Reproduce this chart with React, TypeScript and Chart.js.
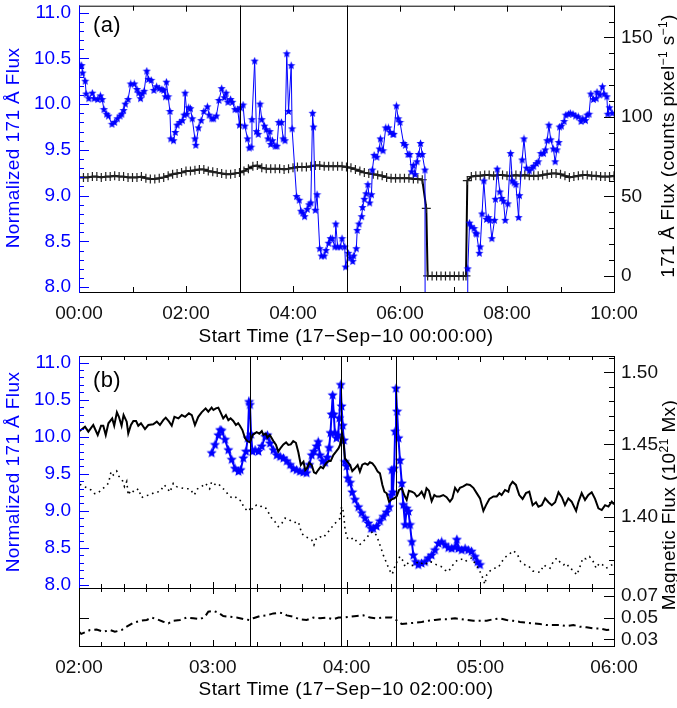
import React, { useEffect, useRef } from "react";
import { Chart, registerables } from "chart.js";
Chart.register(...registerables);

const BLUE = "#0000ff";
const FONT = '"Liberation Sans", Arial, Helvetica, sans-serif';

// ---------------- Panel (a): minutes since 17-Sep-10 00:00 ----------------
const A_X_TICKS = [0, 120, 240, 360, 480, 600];
const A_LEFT_TICKS = [8.0, 8.5, 9.0, 9.5, 10.0, 10.5, 11.0];
const A_RIGHT_TICKS = [0, 50, 100, 150];
const A_VLINES = [180, 300];

// normalized 171 A flux (blue stars) [minute, value]
const A_BLUE: [number, number][] = [
  [1, 10.42], [3, 10.42], [4, 10.34], [7, 10.25], [8, 10.11], [11, 10.06], [15, 10.12], [17, 10.06],
  [21, 10.05], [24, 10.09], [26, 10.05], [28, 9.94], [31, 9.89], [33, 9.87], [37, 9.78], [40, 9.8],
  [43, 9.84], [46, 9.87], [48, 9.89], [50, 9.93], [52, 10.0], [55, 10.05], [58, 10.22], [62, 10.22],
  [65, 10.16], [67, 10.12], [69, 10.06], [71, 10.11], [73, 10.14], [76, 10.36], [78, 10.27], [81, 10.26],
  [84, 10.15], [87, 10.19], [90, 10.17], [93, 10.16], [95, 10.15], [97, 10.08], [98, 10.24], [100, 10.08],
  [102, 9.92], [103, 9.62], [106, 9.6], [108, 9.69], [110, 9.77], [113, 9.8], [116, 9.82], [118, 9.88],
  [119, 10.12], [121, 9.89], [123, 9.96], [125, 9.95], [127, 9.84], [130, 9.62], [131, 9.55], [134, 9.74],
  [137, 9.82], [140, 9.92], [144, 9.97], [146, 9.88], [149, 9.84], [151, 9.84], [154, 9.87], [157, 10.04],
  [160, 10.17], [163, 10.07], [165, 10.12], [167, 10.02], [170, 10.05], [172, 10.02], [175, 9.94], [178, 9.94],
  [180, 9.77], [181, 9.96], [184, 9.99], [186, 9.76], [189, 9.62], [191, 9.52], [193, 9.53], [194, 9.83],
  [197, 10.47], [199, 9.7], [201, 9.67], [203, 10.0], [205, 9.83], [208, 9.76], [210, 9.72], [212, 9.62],
  [214, 9.7], [215, 9.56], [217, 9.6], [220, 9.54], [222, 9.54], [224, 9.8], [227, 9.8], [229, 9.62],
  [231, 9.6], [233, 10.55], [235, 9.92], [238, 10.42], [239, 9.73], [244, 8.99], [247, 8.95], [249, 8.83],
  [251, 8.81], [253, 8.77], [256, 8.85], [258, 8.9], [260, 8.92], [262, 9.9], [263, 9.75], [265, 8.84],
  [267, 9.01], [270, 8.42], [272, 8.34], [275, 8.34], [277, 8.4], [280, 8.48], [282, 8.53], [284, 8.53],
  [287, 8.44], [288, 8.69], [290, 8.44], [293, 8.44], [295, 8.53], [298, 8.44], [299, 8.22], [302, 8.37],
  [304, 8.32], [307, 8.28], [308, 8.34], [311, 8.42], [312, 8.62], [314, 8.69], [317, 8.77], [318, 8.87],
  [320, 8.96], [322, 9.02], [324, 9.12], [326, 8.92], [328, 9.01], [329, 9.28], [331, 9.44], [334, 9.42],
  [337, 9.51], [338, 9.62], [341, 9.49], [344, 9.74], [347, 9.74], [349, 9.69], [352, 9.67], [353, 9.67],
  [356, 9.98], [358, 9.84], [360, 9.8], [364, 9.57], [366, 9.55], [369, 9.45], [371, 9.45], [373, 9.26],
  [375, 9.33], [377, 9.23], [379, 9.37], [381, 9.45], [383, 9.57], [385, 9.45], [388, 9.28], [389, 0],
  [435, 0], [436, 8.2], [438, 8.7], [440, 8.66], [443, 8.64], [445, 8.59], [446, 8.58], [449, 8.37],
  [450, 8.44], [452, 8.8], [454, 9.16], [457, 8.74], [459, 8.76], [461, 8.73], [463, 8.53], [466, 8.73],
  [467, 8.96], [469, 9.29], [472, 9.04], [474, 8.97], [476, 8.94], [478, 8.73], [481, 8.91], [484, 9.46],
  [486, 9.16], [488, 9.14], [490, 9.12], [493, 8.76], [494, 9.0], [497, 9.39], [499, 9.62], [502, 9.3],
  [505, 9.27], [508, 9.3], [510, 9.32], [513, 9.35], [515, 9.37], [518, 9.46], [521, 9.46], [523, 9.5],
  [525, 9.6], [527, 9.77], [529, 9.61], [532, 9.51], [534, 9.37], [536, 9.5], [538, 9.58], [539, 9.75],
  [541, 9.76], [544, 9.81], [546, 9.88], [549, 9.89], [551, 9.9], [554, 9.89], [557, 9.87], [560, 9.86],
  [563, 9.81], [565, 9.84], [568, 9.82], [570, 9.88], [572, 9.89], [574, 10.11], [577, 10.05], [580, 10.06],
  [581, 10.13], [584, 10.1], [587, 10.19], [589, 10.11], [592, 10.08], [593, 9.89], [595, 9.96], [598, 9.9],
];

// 171 A flux, counts pixel^-1 s^-1 (black plus) [minute, value]
const A_BLACK: [number, number][] = [
  [0, 62], [5, 62], [10, 62], [15, 62.5], [20, 62.5], [25, 62], [30, 62.5], [35, 62.5], [40, 63], [45, 62.5],
  [50, 62.5], [55, 62], [60, 62], [65, 62], [70, 62.5], [75, 61.5], [80, 61], [85, 61], [90, 61.5], [95, 62],
  [100, 63], [105, 64], [110, 64.5], [115, 65], [120, 66], [125, 66], [130, 66.5], [135, 67], [140, 67], [145, 66],
  [150, 65.5], [155, 65], [160, 64.5], [165, 64], [170, 64], [175, 64.5], [180, 65], [185, 66], [190, 67.5], [195, 69],
  [200, 69.5], [205, 68], [210, 67.5], [215, 67.5], [220, 67.5], [225, 67.5], [230, 67], [235, 67.5], [240, 68], [245, 68.5],
  [250, 68.5], [255, 68.5], [260, 69], [265, 69.5], [270, 69.5], [275, 69], [280, 69], [285, 69], [290, 69], [295, 69],
  [300, 68.5], [305, 68], [310, 67], [315, 66], [320, 65], [325, 64.5], [330, 64], [335, 63.5], [340, 63], [345, 62],
  [350, 61.5], [355, 61.5], [360, 61.5], [365, 61.5], [370, 61.5], [375, 61], [380, 61], [385, 60.5], [389.5, 42.5], [391, 0],
  [396, 0], [401, 0], [406, 0], [411, 0], [416, 0], [421, 0], [426, 0], [431, 0], [434, 0], [435.5, 60],
  [440, 62.5], [445, 63], [450, 63], [455, 63.5], [460, 63.5], [465, 63], [470, 63.5], [475, 63.5], [480, 63], [485, 63],
  [490, 63.5], [495, 63], [500, 63.5], [505, 63], [510, 63], [515, 63], [520, 63.5], [525, 64], [530, 64.5], [535, 64.5],
  [540, 64], [545, 63], [550, 62], [555, 62.5], [560, 63], [565, 63.5], [570, 63.5], [575, 63], [580, 63], [585, 62.5],
  [590, 62.5], [595, 62.5], [600, 63],
];

// ---------------- Panel (b): minutes since 17-Sep-10 02:00 ----------------
const B_X_TICKS = [0, 60, 120, 180, 240];
const B_LEFT_TICKS = [8.0, 8.5, 9.0, 9.5, 10.0, 10.5, 11.0];
const B_RIGHT_TICKS = [1.4, 1.45, 1.5];
const C_RIGHT_TICKS = [0.03, 0.05, 0.07];
const B_VLINES = [76.9, 117.4, 142.2];

const B_BLUE: [number, number][] = [
  [59.5, 9.78], [61.0, 9.89], [62.5, 10.02], [63.3, 10.09], [64.0, 10.08], [65.5, 9.96], [67.0, 9.82], [68.5, 9.69],
  [70.0, 9.57], [71.5, 9.53], [72.5, 9.55], [73.7, 9.71], [74.9, 9.8], [75.7, 9.98], [76.3, 10.47], [76.7, 10.43],
  [77.2, 10.03], [77.8, 9.8], [79.0, 9.82], [80.5, 9.8], [82.0, 9.87], [83.5, 10.0], [84.5, 10.02], [85.7, 9.91],
  [87.2, 9.82], [88.7, 9.75], [90.2, 9.73], [91.7, 9.71], [93.2, 9.67], [94.7, 9.62], [96.1, 9.57], [97.6, 9.55],
  [99.1, 9.53], [100.6, 9.52], [102.1, 9.51], [103.3, 9.62], [104.4, 9.75], [105.4, 9.8], [106.6, 9.87], [107.3, 9.93],
  [108.1, 9.75], [109.3, 9.67], [110.4, 9.65], [111.4, 9.72], [112.2, 9.85], [112.8, 10.05], [113.3, 10.3], [113.8, 10.56],
  [114.3, 10.3], [114.8, 10.05], [115.5, 9.98], [116.2, 10.02], [116.8, 10.25], [117.4, 10.7], [117.8, 10.41], [118.3, 10.15],
  [118.8, 9.95], [119.3, 9.66], [120.1, 9.6], [120.6, 9.44], [121.6, 9.38], [122.6, 9.25], [123.8, 9.15], [125.3, 9.05],
  [126.8, 8.97], [128.3, 8.9], [129.8, 8.83], [131.0, 8.76], [132.0, 8.76], [133.5, 8.79], [135.0, 8.86], [136.5, 8.92],
  [138.0, 8.98], [139.2, 9.05], [140.0, 9.21], [140.3, 9.55], [140.8, 9.25], [141.4, 9.57], [141.8, 10.07], [142.2, 10.65],
  [142.7, 10.34], [143.3, 9.98], [144.0, 9.68], [144.8, 9.37], [145.5, 9.08], [146.3, 8.81], [147.0, 9.03], [147.8, 8.99],
  [148.5, 8.81], [149.3, 8.58], [150.0, 8.4], [151.1, 8.31], [152.2, 8.27], [153.7, 8.29], [155.2, 8.31], [156.7, 8.36],
  [158.2, 8.4], [159.7, 8.47], [161.2, 8.56], [162.7, 8.58], [164.2, 8.54], [165.7, 8.5], [167.2, 8.49], [168.7, 8.51],
  [169.5, 8.61], [170.2, 8.49], [171.7, 8.47], [173.2, 8.49], [174.6, 8.47], [176.1, 8.45], [177.6, 8.38], [178.8, 8.31],
  [179.9, 8.27],
];

// magnetic flux, 10^21 Mx (solid)
const B_SOLID: [number, number][] = [
  [0, 1.459], [2.7, 1.4623], [4.2, 1.4589], [6.4, 1.4635], [8.4, 1.4566], [9.9, 1.463], [10.9, 1.463], [12.0, 1.4566],
  [13.2, 1.4647], [14.9, 1.4681], [15.8, 1.463], [17.0, 1.4723], [17.9, 1.4692], [19.1, 1.463], [20.0, 1.4704], [21.4, 1.4658],
  [22.1, 1.4577], [23.3, 1.4635], [24.4, 1.4663], [25.6, 1.4663], [26.6, 1.463], [27.8, 1.4647], [29.6, 1.4607], [31.1, 1.4635],
  [33.3, 1.464], [34.9, 1.4658], [36.3, 1.4635], [37.8, 1.4669], [38.9, 1.4686], [40.4, 1.4658], [41.6, 1.463], [42.8, 1.4692],
  [44.6, 1.4681], [46.1, 1.4704], [47.6, 1.4692], [49.3, 1.4716], [50.6, 1.4704], [52.0, 1.4635], [53.5, 1.4692], [55.0, 1.4723],
  [56.8, 1.475], [58.0, 1.4727], [59.5, 1.4755], [60.3, 1.4739], [61.4, 1.475], [62.5, 1.4755], [63.5, 1.4723], [64.7, 1.4681],
  [65.9, 1.4704], [67.0, 1.4669], [68.0, 1.4681], [69.2, 1.4663], [70.4, 1.4635], [71.4, 1.4647], [72.2, 1.463], [73.3, 1.46],
  [74.5, 1.4543], [75.5, 1.4524], [76.7, 1.4515], [77.9, 1.4566], [78.7, 1.4575], [79.7, 1.4585], [80.9, 1.4575], [82.0, 1.4593],
  [82.7, 1.4566], [83.8, 1.4575], [84.5, 1.4547], [85.6, 1.4566], [87.2, 1.4524], [88.4, 1.4497], [89.4, 1.445], [90.5, 1.4477],
  [91.7, 1.4501], [92.9, 1.4515], [93.9, 1.4497], [95.0, 1.4501], [96.1, 1.4524], [97.3, 1.4512], [98.4, 1.4446], [99.5, 1.4358],
  [100.7, 1.4381], [101.5, 1.4323], [102.4, 1.4339], [103.3, 1.4374], [104.4, 1.4358], [105.4, 1.4307], [106.3, 1.43], [107.3, 1.4323],
  [108.4, 1.4346], [109.5, 1.4335], [110.8, 1.4369], [111.9, 1.4385], [112.9, 1.4385], [114.1, 1.4427], [115.3, 1.445], [116.4, 1.4473],
  [117.1, 1.4497], [118.0, 1.4577], [118.6, 1.4531], [119.3, 1.4404], [120.4, 1.4381], [121.6, 1.4358], [122.6, 1.4316], [123.8, 1.4335],
  [125.0, 1.4358], [126.0, 1.4312], [127.1, 1.436], [128.3, 1.4369], [129.5, 1.436], [130.5, 1.4377], [131.6, 1.4369], [132.8, 1.4346],
  [134.0, 1.4312], [135.0, 1.43], [136.1, 1.422], [137.0, 1.4173], [138.0, 1.4162], [139.1, 1.4104], [140.3, 1.412], [141.4, 1.4127],
  [142.5, 1.414], [143.6, 1.4185], [144.8, 1.4197], [145.9, 1.415], [147.0, 1.4116], [148.0, 1.418], [149.3, 1.4173], [150.5, 1.4163],
  [151.5, 1.414], [152.5, 1.415], [153.7, 1.4173], [154.9, 1.4135], [155.9, 1.4197], [157.0, 1.418], [158.2, 1.4108], [159.4, 1.415],
  [160.4, 1.414], [161.9, 1.414], [163.4, 1.415], [164.9, 1.4135], [166.4, 1.4104], [167.5, 1.4127], [168.7, 1.42], [169.9, 1.4173],
  [170.9, 1.42], [172.4, 1.421], [173.9, 1.4224], [175.4, 1.422], [176.9, 1.42], [178.4, 1.4163], [179.9, 1.4127], [181.4, 1.404],
  [182.6, 1.408], [184.1, 1.4123], [185.9, 1.414], [187.4, 1.414], [188.6, 1.4163], [189.6, 1.415], [191.1, 1.4185], [192.6, 1.4173],
  [193.3, 1.4215], [194.5, 1.4242], [196.0, 1.422], [197.5, 1.415], [199.0, 1.4123], [200.5, 1.4163], [202.0, 1.4173], [203.5, 1.408],
  [205.0, 1.41], [206.1, 1.4069], [207.6, 1.408], [209.1, 1.4127], [210.6, 1.41], [212.1, 1.408], [213.6, 1.41], [215.1, 1.4169],
  [216.6, 1.4135], [218.0, 1.408], [219.5, 1.4127], [221.0, 1.4104], [223.0, 1.404], [224.0, 1.41], [225.5, 1.4163], [227.0, 1.4116],
  [228.5, 1.415], [230.0, 1.4169], [231.5, 1.4123], [233.0, 1.4058], [234.5, 1.4046], [236.0, 1.408], [237.5, 1.407], [239.0, 1.4104],
  [240, 1.4085],
];

// magnetic flux, second region (dotted)
const B_DOTTED: [number, number][] = [
  [0.4, 1.4224], [2.4, 1.4208], [4.5, 1.4193], [5.4, 1.4185], [7.0, 1.416], [8.4, 1.4162], [9.9, 1.4185], [11.7, 1.4208],
  [13.2, 1.4231], [14.4, 1.4312], [15.4, 1.4289], [16.9, 1.4316], [17.9, 1.428], [19.4, 1.4254], [20.4, 1.4208], [21.4, 1.4243],
  [22.1, 1.415], [23.3, 1.4185], [24.8, 1.417], [26.6, 1.4193], [28.1, 1.4132], [29.6, 1.4145], [31.8, 1.415], [34.1, 1.417],
  [36.3, 1.4173], [38.3, 1.422], [39.8, 1.4193], [40.8, 1.417], [42.3, 1.4231], [43.8, 1.4208], [45.8, 1.42], [47.6, 1.4193],
  [49.8, 1.4193], [51.7, 1.415], [53.2, 1.4193], [55.0, 1.4208], [56.8, 1.4231], [58.6, 1.4193], [59.5, 1.4242], [61.0, 1.4224],
  [62.5, 1.423], [64.0, 1.42], [65.5, 1.4185], [67.0, 1.415], [68.5, 1.4132], [70.0, 1.414], [71.5, 1.4116], [73.0, 1.4108],
  [73.7, 1.4069], [75.2, 1.4046], [76.4, 1.406], [77.0, 1.4035], [78.2, 1.4069], [79.7, 1.408], [81.2, 1.408], [82.4, 1.4058],
  [83.9, 1.4058], [85.4, 1.4017], [86.4, 1.399], [87.9, 1.3965], [89.4, 1.3931], [91.0, 1.3954], [92.4, 1.399], [93.9, 1.3985],
  [95.4, 1.3965], [96.9, 1.396], [98.4, 1.3965], [99.9, 1.3885], [101.4, 1.3861], [102.9, 1.3854], [104.4, 1.3839], [105.4, 1.3804],
  [106.6, 1.3854], [108.1, 1.3861], [109.6, 1.3854], [111.1, 1.3885], [112.6, 1.3908], [114.1, 1.3943], [115.6, 1.3965], [117.1, 1.3988],
  [117.8, 1.4069], [118.6, 1.4035], [119.3, 1.392], [120.1, 1.3855], [121.6, 1.3839], [123.1, 1.3855], [124.6, 1.3827], [126.1, 1.3809],
  [127.6, 1.383], [129.1, 1.3855], [130.6, 1.3885], [132.0, 1.3897], [133.5, 1.387], [135.0, 1.3804], [136.5, 1.3735], [138.0, 1.3677],
  [139.5, 1.3624], [140.5, 1.3601], [141.7, 1.3655], [143.0, 1.37], [144.0, 1.3725], [145.1, 1.37], [146.3, 1.3654], [147.5, 1.3677],
  [148.9, 1.366], [150.7, 1.3666], [152.2, 1.3689], [153.7, 1.3677], [155.2, 1.3666], [156.7, 1.3689], [158.5, 1.3685], [160.4, 1.3666],
  [162.4, 1.3655], [164.2, 1.363], [165.7, 1.3619], [167.2, 1.3655], [168.7, 1.3685], [170.2, 1.3705], [171.7, 1.3705], [173.2, 1.3689],
  [174.6, 1.3705], [176.1, 1.3713], [177.6, 1.3677], [179.1, 1.3643], [180.6, 1.3597], [182.1, 1.3532], [182.9, 1.3597], [184.4, 1.3624],
  [186.2, 1.3643], [188.1, 1.3648], [189.6, 1.3686], [191.1, 1.3718], [193.1, 1.3741], [194.8, 1.3764], [196.6, 1.3741], [198.1, 1.3689],
  [200.1, 1.3666], [201.6, 1.366], [203.5, 1.3624], [205.3, 1.3619], [206.8, 1.3614], [208.6, 1.3666], [209.8, 1.365], [211.3, 1.3643],
  [212.8, 1.3689], [214.3, 1.3713], [215.8, 1.3685], [217.3, 1.3666], [218.8, 1.3677], [220.0, 1.3643], [221.5, 1.3631], [223.3, 1.3597],
  [224.5, 1.3643], [226.0, 1.3713], [227.5, 1.3708], [229.0, 1.3724], [230.5, 1.3695], [232.0, 1.3643], [233.4, 1.3677], [234.9, 1.3666],
  [236.4, 1.3643], [237.9, 1.3654], [239.4, 1.367],
];

// lower sub-panel (dash-dot)
const C_DASHDOT: [number, number][] = [
  [0, 0.037], [1, 0.035], [4.9, 0.0385], [7.9, 0.039], [10.9, 0.037], [13.9, 0.0385], [16.1, 0.037], [19.1, 0.0385],
  [21.4, 0.0416], [24.4, 0.0452], [27.4, 0.047], [30.4, 0.0478], [32.6, 0.05], [34.9, 0.0485], [37.8, 0.0462], [40.1, 0.0447],
  [42.3, 0.047], [45.3, 0.0478], [48.3, 0.05], [51.3, 0.0494], [54.3, 0.0485], [56.5, 0.0507], [58.0, 0.0553], [60.3, 0.0562],
  [62.5, 0.0544], [64.7, 0.0514], [67.7, 0.0507], [70.7, 0.05], [73.7, 0.0486], [76.4, 0.0478], [78.2, 0.0494], [81.2, 0.0514],
  [84.2, 0.052], [87.2, 0.0538], [90.2, 0.0544], [91.7, 0.0538], [93.2, 0.052], [96.1, 0.0507], [99.1, 0.0483], [102.1, 0.0478],
  [105.1, 0.05], [108.1, 0.0494], [111.1, 0.05], [114.1, 0.0483], [116.4, 0.05], [118.6, 0.05], [121.6, 0.0507], [124.6, 0.0514],
  [127.5, 0.052], [129.0, 0.0514], [130.5, 0.05], [133.5, 0.0493], [136.5, 0.05], [140.3, 0.05], [142.2, 0.0478], [144.8, 0.044],
  [147.7, 0.0447], [150.7, 0.0452], [153.7, 0.046], [156.7, 0.047], [159.7, 0.0478], [162.7, 0.0485], [165.7, 0.0485], [168.7, 0.0493],
  [171.7, 0.0485], [174.0, 0.0478], [176.9, 0.047], [179.9, 0.047], [182.9, 0.047], [185.9, 0.0485], [188.8, 0.0493], [191.8, 0.0478],
  [194.8, 0.047], [197.8, 0.046], [200.8, 0.0452], [203.8, 0.0447], [206.8, 0.044], [209.8, 0.0431], [212.8, 0.0431], [215.8, 0.0431],
  [218.8, 0.0422], [221.8, 0.0431], [224.7, 0.0416], [227.7, 0.041], [230.7, 0.04], [233.7, 0.04], [236.7, 0.0385], [239.0, 0.039],
];

// ---------------- helpers ----------------
const pad2 = (n: number) => (n < 10 ? "0" : "") + n;
const hhmm = (m: number) => pad2(Math.floor(m / 60)) + ":" + pad2(Math.round(m % 60));
const pts = (arr: [number, number][]) => arr.map(([x, y]) => ({ x, y }));
const range = (a: number, b: number, s: number) => {
  const out: number[] = [];
  for (let v = a; v <= b + s * 1e-6; v += s) out.push(Math.round(v * 1e6) / 1e6);
  return out;
};

const zeroPad = (s: any) => {
  s.paddingLeft = 0; s.paddingRight = 0; s.paddingTop = 0; s.paddingBottom = 0;
};

function xScale(min: number, max: number, ticks: number[], fmt: (v: number) => string, height: number, show: boolean) {
  return {
    type: "linear", position: "bottom", min, max,
    grid: { display: false, drawTicks: false }, border: { display: false },
    ticks: { display: show, autoSkip: false, maxRotation: 0, minRotation: 0, padding: 10, color: "#111",
      font: { family: FONT, size: 19 }, callback: (v: any) => fmt(Number(v)) },
    afterBuildTicks: (s: any) => { s.ticks = ticks.map((v) => ({ value: v })); },
    afterFit: (s: any) => { s.height = height; zeroPad(s); },
  };
}

function yScale(position: string, min: number, max: number, ticks: number[], fmt: (v: number) => string,
  width: number, color: string, show: boolean, padding: number) {
  return {
    type: "linear", position, min, max,
    grid: { display: false, drawTicks: false }, border: { display: false },
    ticks: { display: show, autoSkip: false, padding, color, font: { family: FONT, size: 19 },
      callback: (v: any) => fmt(Number(v)) },
    afterBuildTicks: (s: any) => { s.ticks = ticks.map((v) => ({ value: v })); },
    afterFit: (s: any) => { s.width = width; zeroPad(s); },
  };
}

type Seg = { t: string; sup?: boolean };
type Title = { segs: Seg[]; x: number; y: number; rot: number; color: string; align?: "left" | "center"; size?: number };

function drawRich(ctx: CanvasRenderingContext2D, t: Title) {
  ctx.save();
  ctx.translate(t.x, t.y);
  ctx.rotate((t.rot * Math.PI) / 180);
  ctx.fillStyle = t.color;
  ctx.textBaseline = "alphabetic";
  ctx.textAlign = "left";
  (ctx as any).letterSpacing = "0.4px";
  const big = `${t.size || 19}px ${FONT}`;
  const small = `12px ${FONT}`;
  let total = 0;
  const ws = t.segs.map((s) => {
    ctx.font = s.sup ? small : big;
    const w = ctx.measureText(s.t).width;
    total += w;
    return w;
  });
  let cx = t.align === "left" ? 0 : -total / 2;
  t.segs.forEach((s, i) => {
    ctx.font = s.sup ? small : big;
    ctx.fillText(s.t, cx, s.sup ? -7 : 0);
    cx += ws[i];
  });
  ctx.restore();
}

const framePlugin = {
  id: "frame",
  afterDatasetsDraw(chart: any, _args: any, o: any) {
    const { ctx, chartArea: a, scales } = chart;
    const snap = (v: number) => Math.round(v) + 0.5;
    const line = (x1: number, y1: number, x2: number, y2: number) => {
      ctx.beginPath(); ctx.moveTo(x1, y1); ctx.lineTo(x2, y2); ctx.stroke();
    };
    ctx.save();
    ctx.lineWidth = 1;
    ctx.strokeStyle = "#000";
    const xs = scales.x;
    for (const v of o.vlines || []) {
      const x = snap(xs.getPixelForValue(v));
      line(x, a.top, x, a.bottom);
    }
    const xt: [number[], number][] = [[o.xMajor, o.xMajorLen], [o.xMinor, o.xMinorLen]];
    for (const [vals, len] of xt) {
      for (const v of vals) {
        const x = snap(xs.getPixelForValue(v));
        line(x, a.bottom, x, a.bottom - len);
        line(x, a.top, x, a.top + len);
      }
    }
    const sideTicks = (spec: any, side: "left" | "right") => {
      if (!spec) return;
      const sc = scales[spec.id];
      ctx.strokeStyle = spec.color;
      const groups: [number[], number][] = [[spec.major, spec.majorLen], [spec.minor || [], spec.minorLen]];
      for (const [vals, len] of groups) {
        for (const v of vals) {
          const y = snap(sc.getPixelForValue(v));
          if (y < a.top - 1 || y > a.bottom + 1) continue;
          if (side === "left") line(a.left, y, a.left + len, y);
          else line(a.right, y, a.right - len, y);
        }
      }
    };
    sideTicks(o.left, "left");
    sideTicks(o.right, "right");
    ctx.strokeStyle = "#000";
    ctx.strokeRect(a.left + 0.5, a.top + 0.5, a.right - a.left, a.bottom - a.top);
    if (o.left && o.left.color !== "#000") {
      ctx.strokeStyle = o.left.color;
      line(a.left + 0.5, a.top, a.left + 0.5, a.bottom + 1);
    }
    ctx.restore();
  },
  afterDraw(chart: any, _args: any, o: any) {
    for (const t of o.titles || []) drawRich(chart.ctx, t);
  },
};

function makeStar(color: string, size: number) {
  const c = document.createElement("canvas");
  c.width = size; c.height = size;
  const g = c.getContext("2d")!;
  const cx = size / 2, cy = size / 2, R = size / 2 - 0.2, r = R * 0.45;
  g.beginPath();
  for (let i = 0; i < 10; i++) {
    const ang = -Math.PI / 2 + (i * Math.PI) / 5;
    const rad = i % 2 === 0 ? R : r;
    g.lineTo(cx + rad * Math.cos(ang), cy + rad * Math.sin(ang));
  }
  g.closePath();
  g.fillStyle = color;
  g.fill();
  return c;
}

const baseOptions = (padTop: number) => ({
  animation: false, responsive: false, devicePixelRatio: 1,
  layout: { padding: { top: padTop, left: 0, right: 0, bottom: 0 } },
  elements: { line: { tension: 0 } },
});

export default function App() {
  const aRef = useRef<HTMLCanvasElement>(null);
  const bRef = useRef<HTMLCanvasElement>(null);
  const cRef = useRef<HTMLCanvasElement>(null);

  useEffect(() => {
    const starA = makeStar(BLUE, 9);
    const starB = makeStar(BLUE, 11);
    const charts: Chart[] = [];

    // ---------- panel (a) ----------
    charts.push(new Chart(aRef.current!, {
      type: "line",
      data: {
        datasets: [
          { data: pts(A_BLUE), yAxisID: "y", borderColor: BLUE, borderWidth: 1, pointStyle: starA as any,
            pointRadius: 4, order: 0 },
          { data: pts(A_BLACK), yAxisID: "yR", borderColor: "#000", borderWidth: 2, pointStyle: "cross",
            pointRadius: 4.5, pointBorderWidth: 1.2, pointBorderColor: "#222", order: 1 },
        ],
      },
      options: {
        ...baseOptions(2),
        plugins: {
          legend: { display: false }, tooltip: { enabled: false },
          frame: {
            vlines: A_VLINES,
            xMajor: A_X_TICKS, xMajorLen: 6, xMinor: range(60, 540, 120), xMinorLen: 5,
            left: { id: "y", color: BLUE, major: A_LEFT_TICKS, majorLen: 10, minor: range(8.0, 11.0, 0.1), minorLen: 5 },
            right: { id: "yR", color: "#000", major: A_RIGHT_TICKS, majorLen: 10, minor: range(-10, 170, 10), minorLen: 5 },
            titles: [
              { segs: [{ t: "Normalized 171 Å Flux" }], x: 18.5, y: 148, rot: -90, color: BLUE },
              { segs: [{ t: "171 Å Flux (counts pixel" }, { t: "−1", sup: true }, { t: " s" }, { t: "−1", sup: true }, { t: ")" }],
                x: 673.5, y: 146, rot: -90, color: "#000" },
              { segs: [{ t: "Start Time (17−Sep−10 00:00:00)" }], x: 346, y: 341.5, rot: 0, color: "#000" },
              { segs: [{ t: "(a)" }], x: 93, y: 32, rot: 0, color: "#000", align: "left", size: 22 },
            ],
          },
        } as any,
        scales: {
          x: xScale(0, 600, A_X_TICKS, hhmm, 58, true),
          y: yScale("left", 7.947, 11.0755, A_LEFT_TICKS, (v) => v.toFixed(1), 79, BLUE, true, 8),
          yR: yScale("right", -10.1, 170, A_RIGHT_TICKS, (v) => String(v), 63, "#111", true, 7),
        } as any,
      } as any,
      plugins: [framePlugin as any],
    }));

    // ---------- panel (b), upper ----------
    charts.push(new Chart(bRef.current!, {
      type: "line",
      data: {
        datasets: [
          { data: pts(B_SOLID), yAxisID: "yR", borderColor: "#000", borderWidth: 2, pointRadius: 0, order: 0 },
          { data: pts(B_DOTTED), yAxisID: "yR", borderColor: "#000", borderWidth: 1.6, borderDash: [1.6, 4],
            pointRadius: 0, order: 1 },
          { data: pts(B_BLUE), yAxisID: "y", borderColor: BLUE, borderWidth: 2, pointStyle: starB as any,
            pointRadius: 5, order: 2 },
        ],
      },
      options: {
        ...baseOptions(11),
        plugins: {
          legend: { display: false }, tooltip: { enabled: false },
          frame: {
            vlines: B_VLINES,
            xMajor: B_X_TICKS, xMajorLen: 6, xMinor: range(10, 230, 10), xMinorLen: 4,
            left: { id: "y", color: BLUE, major: B_LEFT_TICKS, majorLen: 10, minor: range(8.0, 11.0, 0.1), minorLen: 5 },
            right: { id: "yR", color: "#000", major: B_RIGHT_TICKS, majorLen: 10, minor: range(1.36, 1.51, 0.01), minorLen: 5 },
            titles: [
              { segs: [{ t: "Normalized 171 Å Flux" }], x: 18.5, y: 127, rot: -90, color: BLUE },
              { segs: [{ t: "Magnetic Flux (10" }, { t: "21", sup: true }, { t: " Mx)" }], x: 675, y: 160, rot: -90, color: "#000" },
              { segs: [{ t: "(b)" }], x: 93, y: 42, rot: 0, color: "#000", align: "left", size: 22 },
            ],
          },
        } as any,
        scales: {
          x: xScale(0, 240, B_X_TICKS, (v) => hhmm(v + 120), 47, false),
          y: yScale("left", 7.959, 11.09, B_LEFT_TICKS, (v) => v.toFixed(1), 79, BLUE, true, 8),
          yR: yScale("right", 1.3506, 1.5113, B_RIGHT_TICKS, (v) => v.toFixed(2), 63, "#111", true, 7),
        } as any,
      } as any,
      plugins: [framePlugin as any],
    }));

    // ---------- panel (b), lower ----------
    charts.push(new Chart(cRef.current!, {
      type: "line",
      data: {
        datasets: [
          { data: pts(C_DASHDOT), yAxisID: "yR", borderColor: "#000", borderWidth: 2, borderDash: [7, 4, 2, 4],
            pointRadius: 0 },
        ],
      },
      options: {
        ...baseOptions(3),
        plugins: {
          legend: { display: false }, tooltip: { enabled: false },
          frame: {
            vlines: B_VLINES,
            xMajor: B_X_TICKS, xMajorLen: 6, xMinor: range(10, 230, 10), xMinorLen: 4,
            left: { id: "y", color: "#000", major: [0.05], majorLen: 10, minor: [], minorLen: 5 },
            right: { id: "yR", color: "#000", major: C_RIGHT_TICKS, majorLen: 10, minor: [], minorLen: 5 },
            titles: [
              { segs: [{ t: "Start Time (17−Sep−10 02:00:00)" }], x: 346, y: 109.5, rot: 0, color: "#000" },
            ],
          },
        } as any,
        scales: {
          x: xScale(0, 240, B_X_TICKS, (v) => hhmm(v + 120), 62, true),
          y: yScale("left", 0.0239, 0.0771, C_RIGHT_TICKS, (v) => v.toFixed(2), 79, "#000", false, 8),
          yR: yScale("right", 0.0239, 0.0771, C_RIGHT_TICKS, (v) => v.toFixed(2), 63, "#111", true, 7),
        } as any,
      } as any,
      plugins: [framePlugin as any],
    }));

    return () => charts.forEach((c) => c.destroy());
  }, []);

  return (
    <div style={{ position: "absolute", left: 0, top: 0, width: 677, height: 708, background: "#fff", overflow: "hidden" }}>
      <canvas ref={aRef} width={677} height={350} style={{ position: "absolute", left: 0, top: 0, width: 677, height: 350 }} />
      <canvas ref={bRef} width={677} height={290} style={{ position: "absolute", left: 0, top: 345, width: 677, height: 290 }} />
      <canvas ref={cRef} width={677} height={123} style={{ position: "absolute", left: 0, top: 585, width: 677, height: 123 }} />
    </div>
  );
}
